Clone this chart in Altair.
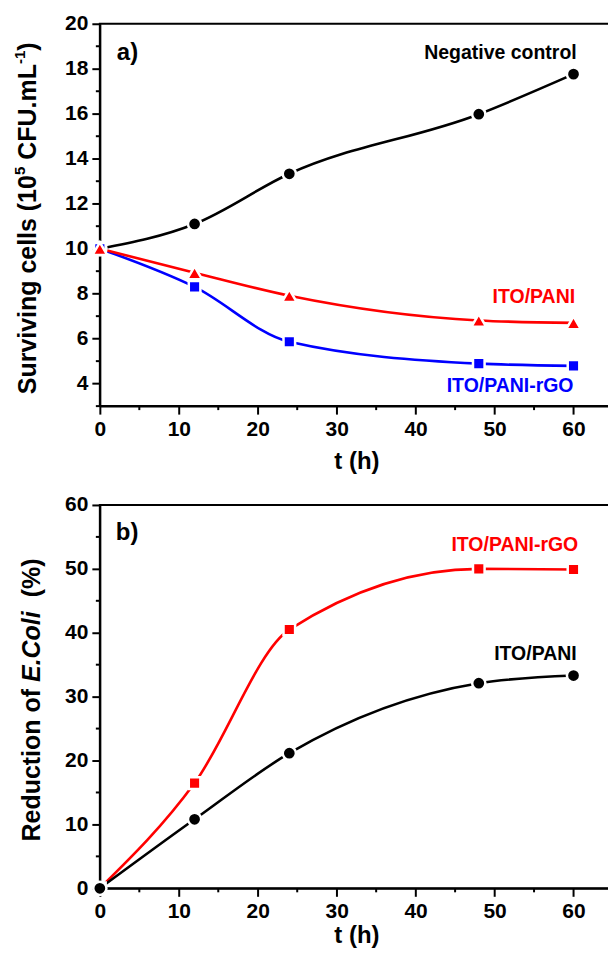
import altair as alt
import pandas as pd

# ---------------- data ----------------
hours = [0, 12, 24, 48, 60]

# panel a) surviving cells (10^5 CFU/mL)
neg_control = [10.0, 11.1, 13.33, 15.98, 17.76]
ito_pani_a = [10.0, 8.93, 7.91, 6.81, 6.70]
ito_pani_rgo_a = [10.0, 8.30, 5.86, 4.89, 4.79]

# panel b) reduction of E.Coli (%)
ito_pani_b = [0.0, 10.8, 21.15, 32.1, 33.3]
ito_pani_rgo_b = [0.0, 16.47, 40.5, 50.0, 49.9]

x_major = [0, 10, 20, 30, 40, 50, 60]
x_minor = [5, 15, 25, 35, 45, 55, 65]
ya_major = [4, 6, 8, 10, 12, 14, 16, 18, 20]
ya_minor = [3, 5, 7, 9, 11, 13, 15, 17, 19]
yb_major = [0, 10, 20, 30, 40, 50, 60]
yb_minor = [5, 15, 25, 35, 45, 55]

# series annotations (text, x, y)
ann_a_text = ["Negative control", "ITO/PANI", "ITO/PANI-rGO"]
ann_a_x = [60.4, 60.2, 60.0]
ann_a_y = [18.7, 7.86, 3.9]
ann_a_color = ["black", "#ff0000", "#0000ff"]

ann_b_text = ["ITO/PANI-rGO", "ITO/PANI"]
ann_b_x = [60.6, 60.4]
ann_b_y = [53.8, 36.6]
ann_b_color = ["#ff0000", "black"]

FONT = "Liberation Sans"
W, HA, HB = 514, 383, 384
INTERP = "monotone"


def series(xs, ys, color, shape, size):
    df = pd.DataFrame({"t": xs, "v": ys})
    base = alt.Chart(df)
    line = base.mark_line(interpolate=INTERP, strokeWidth=2.6, color=color).encode(
        x=alt.X("t:Q"), y=alt.Y("v:Q"))
    pts = base.mark_point(shape=shape, filled=True, size=size, color=color, fill=color,
                          stroke="white", strokeWidth=2.5, opacity=1).encode(
        x=alt.X("t:Q"), y=alt.Y("v:Q"))
    return line, pts


def text_value(txt, x, y, size=25, style="normal", angle=270, align="left", color="black"):
    return alt.Chart(pd.DataFrame({"s": [txt]})).mark_text(
        font=FONT, fontWeight="bold", fontStyle=style, fontSize=size, angle=angle,
        align=align, baseline="middle", color=color).encode(
        x=alt.value(x), y=alt.value(y), text="s:N")


def x_axis(title_y):
    return alt.Axis(values=x_major, title="t (h)", grid=False, tickSize=8,
                    labelPadding=4, labelFontSize=21, labelFont=FONT, labelFontWeight="bold",
                    labelColor="black", labelFlush=False, labelOverlap=False,
                    titleFontSize=24, titleFont=FONT, titleFontWeight="bold", titleColor="black",
                    titleY=title_y, titleBaseline="middle",
                    domainColor="black", domainWidth=2, tickColor="black", tickWidth=2)


def y_axis(values):
    return alt.Axis(values=values, title=None, grid=False, tickSize=8,
                    labelPadding=4, labelFontSize=21, labelFont=FONT, labelFontWeight="bold",
                    labelColor="black", labelFlush=False, labelOverlap=False,
                    domainColor="black", domainWidth=2, tickColor="black", tickWidth=2)


def minor_x(vals, h):
    return alt.Chart(pd.DataFrame({"t": vals})).mark_rule(color="black", strokeWidth=2).encode(
        x="t:Q", y=alt.value(h), y2=alt.value(h + 4))


def minor_y(vals):
    return alt.Chart(pd.DataFrame({"v": vals})).mark_rule(color="black", strokeWidth=2).encode(
        y="v:Q", x=alt.value(-4), x2=alt.value(0))


# ---------------- panel a ----------------
xs_a = alt.Scale(domain=[0, 65], nice=False, zero=False)
ys_a = alt.Scale(domain=[3, 20], nice=False, zero=False)

axes_a = alt.Chart(pd.DataFrame({"t": [0], "v": [3]})).mark_point(opacity=0).encode(
    x=alt.X("t:Q", scale=xs_a, axis=x_axis(55)),
    y=alt.Y("v:Q", scale=ys_a, axis=y_axis(ya_major)))

l1, p1 = series(hours, neg_control, "black", "circle", 175)
l2, p2 = series(hours, ito_pani_rgo_a, "#0000ff", "square", 135)
l3, p3 = series(hours, ito_pani_a, "#ff0000", "triangle-up", 220)

ann_a = alt.Chart(pd.DataFrame({"s": ann_a_text, "t": ann_a_x, "v": ann_a_y, "c": ann_a_color})).mark_text(
    font=FONT, fontWeight="bold", fontSize=19.5, align="right", baseline="middle").encode(
    x="t:Q", y="v:Q", text="s:N", color=alt.Color("c:N", scale=None))

# y title a) with superscripts
ta_x, ta_y0 = -72, 371
ta_parts = [
    text_value("Surviving cells (10", ta_x, ta_y0),
    text_value("5", ta_x - 8, ta_y0 - 219.6, size=15),
    text_value("CFU.mL", ta_x, ta_y0 - 219.6 - 8.3 - 6.95),
    text_value("-1", ta_x - 8, ta_y0 - 219.6 - 8.3 - 6.95 - 95.8, size=15),
    text_value(")", ta_x, ta_y0 - 219.6 - 8.3 - 6.95 - 95.8 - 13.3),
]
label_a = text_value("a)", 17, 29, size=24, angle=0)

panel_a = alt.layer(axes_a, minor_x(x_minor, HA), minor_y(ya_minor),
                    l1, l2, l3, p1, p2, p3, ann_a, label_a, *ta_parts).properties(
    width=W, height=HA)

# ---------------- panel b ----------------
xs_b = alt.Scale(domain=[0, 65], nice=False, zero=False)
ys_b = alt.Scale(domain=[0, 60], nice=False, zero=False)

axes_b = alt.Chart(pd.DataFrame({"t": [0], "v": [0]})).mark_point(opacity=0).encode(
    x=alt.X("t:Q", scale=xs_b, axis=x_axis(47)),
    y=alt.Y("v:Q", scale=ys_b, axis=y_axis(yb_major)))

m1, q1 = series(hours, ito_pani_rgo_b, "#ff0000", "square", 135)
m2, q2 = series(hours, ito_pani_b, "black", "circle", 175)

ann_b = alt.Chart(pd.DataFrame({"s": ann_b_text, "t": ann_b_x, "v": ann_b_y, "c": ann_b_color})).mark_text(
    font=FONT, fontWeight="bold", fontSize=19.5, align="right", baseline="middle").encode(
    x="t:Q", y="v:Q", text="s:N", color=alt.Color("c:N", scale=None))

tb_x, tb_y0 = -68, 337
tb_parts = [
    text_value("Reduction of", tb_x, tb_y0),
    text_value("E.Coli", tb_x, tb_y0 - 159.7, style="italic"),
    text_value("(%)", tb_x, tb_y0 - 159.7 - 70.85 - 13.9),
]
label_b = text_value("b)", 16, 28, size=24, angle=0)

panel_b = alt.layer(axes_b, minor_x(x_minor, HB), minor_y(yb_minor),
                    m1, m2, q1, q2, ann_b, label_b, *tb_parts).properties(
    width=W, height=HB)

chart = alt.vconcat(panel_a, panel_b, spacing=19).properties(
    padding={"left": 3, "top": 3, "right": -7, "bottom": 0},
    background="white"
).configure_view(stroke="black", strokeWidth=2).configure_concat(spacing=19)

chart.save("out.html", embed_options={"renderer": "svg", "actions": False})
